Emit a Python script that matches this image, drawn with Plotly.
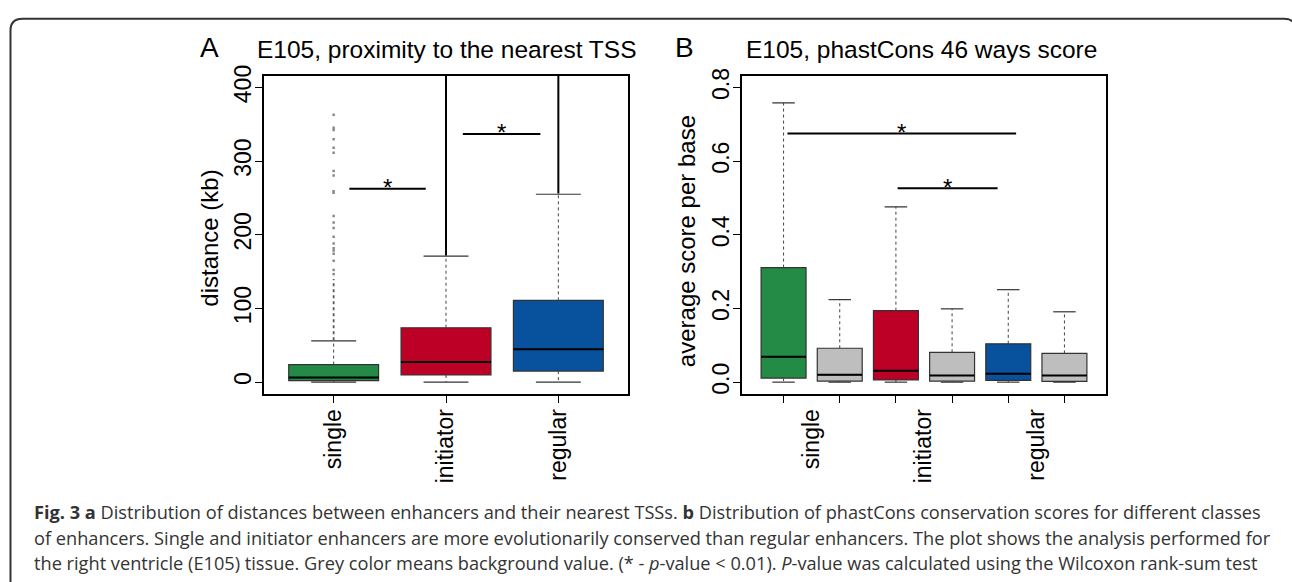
import plotly.graph_objects as go

W, H = 1292, 582

# ---------------- Panel A data: distance to nearest TSS (kb) ----------------
dist_categories = ["single", "initiator", "regular"]
dist_q1 = [2.2, 9.7, 15.0]
dist_median = [6.2, 27.4, 44.6]
dist_q3 = [23.8, 73.8, 111.0]
dist_lower = [0.0, 0.0, 0.0]
dist_upper = [56.0, 171.0, 255.0]
dist_colors = ["#238B45", "#BD0026", "#08519C"]
# sparse outliers of the "single" class
single_outliers = [146.6, 152.3, 164.7, 174.4, 178.8, 181.9, 188.1, 197.4, 209.3,
                   216.8, 225.6, 257.0, 259.2, 280.4, 286.5, 311.3, 318.3, 329.8,
                   342.2, 345.3, 362.9]
# dense outlier runs (thousands of overlapping points) per class
dist_dense_low = [57.0, 172.0, 256.0]
dist_dense_high = [140.0, 2000.0, 2000.0]
dist_dense_colors = ["#5a5a5a", "#000000", "#000000"]
# significance bars
dist_sig_from = [1.14, 2.15]
dist_sig_to = [1.82, 2.84]
dist_sig_y = [262.6, 336.8]

# ---------------- Panel B data: phastCons 46 ways score ----------------
phast_categories = ["single", "initiator", "regular"]
phast_q1 = [0.011, 0.003, 0.006, 0.003, 0.005, 0.002]
phast_median = [0.069, 0.020, 0.031, 0.018, 0.023, 0.018]
phast_q3 = [0.311, 0.092, 0.194, 0.081, 0.104, 0.078]
phast_lower = [0.0, 0.0, 0.0, 0.0, 0.0, 0.0]
phast_upper = [0.758, 0.224, 0.476, 0.199, 0.251, 0.191]
phast_colors = ["#238B45", "#BEBEBE", "#BD0026", "#BEBEBE", "#08519C", "#BEBEBE"]
phast_sig_from = [1.07, 3.03]
phast_sig_to = [5.14, 4.81]
phast_sig_y = [0.675, 0.526]

caption_lines = [
    "<b>Fig. 3 a</b> Distribution of distances between enhancers and their nearest TSSs. <b>b</b> Distribution of phastCons conservation scores for different classes",
    "of enhancers. Single and initiator enhancers are more evolutionarily conserved than regular enhancers. The plot shows the analysis performed for",
    "the right ventricle (E105) tissue. Grey color means background value. (* - <i>p</i>-value &lt; 0.01). <i>P</i>-value was calculated using the Wilcoxon rank-sum test",
]

FONT = "Liberation Sans, Arial, sans-serif"
BOXW = 0.8
CAPW = 0.2


def px(x):
    return x / W


def py(y):
    return 1 - y / H


fig = go.Figure()


def add_boxes(xa, ya, q1, med, q3, lo, hi, colors):
    for i in range(len(q1)):
        xi = i + 1
        fig.add_trace(go.Box(
            x=[xi], q1=[q1[i]], median=[med[i]], q3=[q3[i]],
            lowerfence=[q1[i]], upperfence=[q3[i]],
            width=BOXW, whiskerwidth=0, fillcolor=colors[i],
            line=dict(color="#333333", width=1.2), boxpoints=False,
            xaxis=xa, yaxis=ya, showlegend=False, hoverinfo="skip"))
        # median line (thicker, black)
        fig.add_trace(go.Scatter(
            x=[xi - BOXW / 2, xi + BOXW / 2], y=[med[i], med[i]], mode="lines",
            line=dict(color="black", width=2), xaxis=xa, yaxis=ya,
            showlegend=False, hoverinfo="skip"))
        # dotted whiskers
        fig.add_trace(go.Scatter(
            x=[xi, xi, None, xi, xi], y=[q3[i], hi[i], None, q1[i], lo[i]],
            mode="lines", line=dict(color="#444444", width=1, dash="dot"),
            xaxis=xa, yaxis=ya, showlegend=False, hoverinfo="skip"))
        # staples
        fig.add_trace(go.Scatter(
            x=[xi - CAPW, xi + CAPW, None, xi - CAPW, xi + CAPW],
            y=[hi[i], hi[i], None, lo[i], lo[i]],
            mode="lines", line=dict(color="#333333", width=1.2),
            xaxis=xa, yaxis=ya, showlegend=False, hoverinfo="skip"))


def add_sig(xa, ya, x0s, x1s, ys):
    for a, b, yv in zip(x0s, x1s, ys):
        fig.add_trace(go.Scatter(
            x=[a, b], y=[yv, yv], mode="lines", line=dict(color="black", width=2),
            xaxis=xa, yaxis=ya, showlegend=False, hoverinfo="skip"))
        fig.add_annotation(x=(a + b) / 2, y=yv, xref=xa, yref=ya, text="*",
                           showarrow=False, yanchor="middle", yshift=1,
                           font=dict(family=FONT, size=24, color="black"))


# Panel A
add_boxes("x", "y", dist_q1, dist_median, dist_q3, dist_lower, dist_upper, dist_colors)
for i in range(len(dist_dense_low)):
    fig.add_trace(go.Scatter(
        x=[i + 1, i + 1], y=[dist_dense_low[i], dist_dense_high[i]], mode="lines",
        line=dict(color=dist_dense_colors[i], width=2 if i else 1.8,
                  dash="dot" if i == 0 else "solid"),
        xaxis="x", yaxis="y", showlegend=False, hoverinfo="skip"))
fig.add_trace(go.Scatter(
    x=[1] * len(single_outliers), y=single_outliers, mode="markers",
    marker=dict(symbol="square", size=2.5, color="#8a8a8a", line=dict(width=0)),
    xaxis="x", yaxis="y", showlegend=False, hoverinfo="skip"))
add_sig("x", "y", dist_sig_from, dist_sig_to, dist_sig_y)

# Panel B
add_boxes("x2", "y2", phast_q1, phast_median, phast_q3, phast_lower, phast_upper, phast_colors)
add_sig("x2", "y2", phast_sig_from, phast_sig_to, phast_sig_y)

# Axes
ydom = [py(391), py(66)]
axis_common = dict(showline=True, mirror=True, linecolor="black", linewidth=2,
                   ticks="outside", ticklen=7, tickwidth=1.3, tickcolor="black",
                   showgrid=False, zeroline=False,
                   tickfont=dict(family=FONT, size=23, color="black"))

n_phast = len(phast_q1)
fig.update_layout(
    width=W, height=H, margin=dict(l=0, r=0, t=0, b=0),
    paper_bgcolor="white", plot_bgcolor="white", showlegend=False,
    xaxis=dict(domain=[px(264), px(628)], range=[0.38, 3.62],
               tickvals=list(range(1, len(dist_categories) + 1)),
               ticktext=dist_categories, tickangle=-90, anchor="y",
               ticklabelstandoff=-3, **axis_common),
    yaxis=dict(domain=ydom, range=[-16, 416], tickvals=[0, 100, 200, 300, 400],
               tickangle=-90, anchor="x", ticklabelstandoff=-5, **axis_common),
    xaxis2=dict(domain=[px(742), px(1106)], range=[0.26, n_phast + 0.74],
                tickvals=[2 * k + 1.5 for k in range(len(phast_categories))],
                ticktext=phast_categories, tickangle=-90, anchor="y2",
                ticklabelstandoff=-3,
                minor=dict(tickvals=list(range(1, n_phast + 1)), ticks="outside",
                           ticklen=7, tickwidth=1.3, tickcolor="black"),
                **{**axis_common, "tickcolor": "rgba(0,0,0,0)"}),
    yaxis2=dict(domain=ydom, range=[-0.032, 0.832],
                tickvals=[0.0, 0.2, 0.4, 0.6, 0.8], tickformat=".1f",
                tickangle=-90, anchor="x2", ticklabelstandoff=-5, **axis_common),
)

# Titles, panel letters, axis titles
fig.add_annotation(x=px(209), y=py(37.5), xref="paper", yref="paper", text="A",
                   showarrow=False, xanchor="center", yanchor="middle",
                   font=dict(family=FONT, size=28, color="black"))
fig.add_annotation(x=px(255), y=py(39), xref="paper", yref="paper",
                   text="E105, proximity to the nearest TSS", showarrow=False,
                   xanchor="left", yanchor="middle",
                   font=dict(family=FONT, size=24.5, color="black"))
fig.add_annotation(x=px(684.5), y=py(37.5), xref="paper", yref="paper", text="B",
                   showarrow=False, xanchor="center", yanchor="middle",
                   font=dict(family=FONT, size=28, color="black"))
fig.add_annotation(x=px(744), y=py(39), xref="paper", yref="paper",
                   text="E105, phastCons 46 ways score", showarrow=False,
                   xanchor="left", yanchor="middle",
                   font=dict(family=FONT, size=24.5, color="black"))
fig.add_annotation(x=px(210), y=py(232.5), xref="paper", yref="paper",
                   text="distance (kb)", showarrow=False, textangle=-90,
                   xanchor="center", yanchor="middle",
                   font=dict(family=FONT, size=24, color="black"))
fig.add_annotation(x=px(686), y=py(235), xref="paper", yref="paper",
                   text="average score per base", showarrow=False, textangle=-90,
                   xanchor="center", yanchor="middle",
                   font=dict(family=FONT, size=24, color="black"))

# Caption
for k, line in enumerate(caption_lines):
    fig.add_annotation(x=px(32), y=py(512 + 26 * k), xref="paper", yref="paper",
                       text=line, showarrow=False, xanchor="left", yanchor="middle",
                       font=dict(family="Open Sans, Noto Sans, sans-serif", size=18.2,
                                 color="#333333"))

# Rounded frame around the figure
L, T, R, B, r = 10.5, 8, 1296, 590, 12
frame = (f"M {px(L)},{py(B)} L {px(L)},{py(T + r)} Q {px(L)},{py(T)} {px(L + r)},{py(T)} "
         f"L {px(R - r)},{py(T)} Q {px(R)},{py(T)} {px(R)},{py(T + r)} L {px(R)},{py(B)}")
fig.add_shape(type="path", path=frame, xref="paper", yref="paper",
              line=dict(color="#333333", width=2))

fig.write_html("out.html", config={"displayModeBar": False},
               post_script="document.body.style.margin='0';document.body.style.overflow='hidden';")
